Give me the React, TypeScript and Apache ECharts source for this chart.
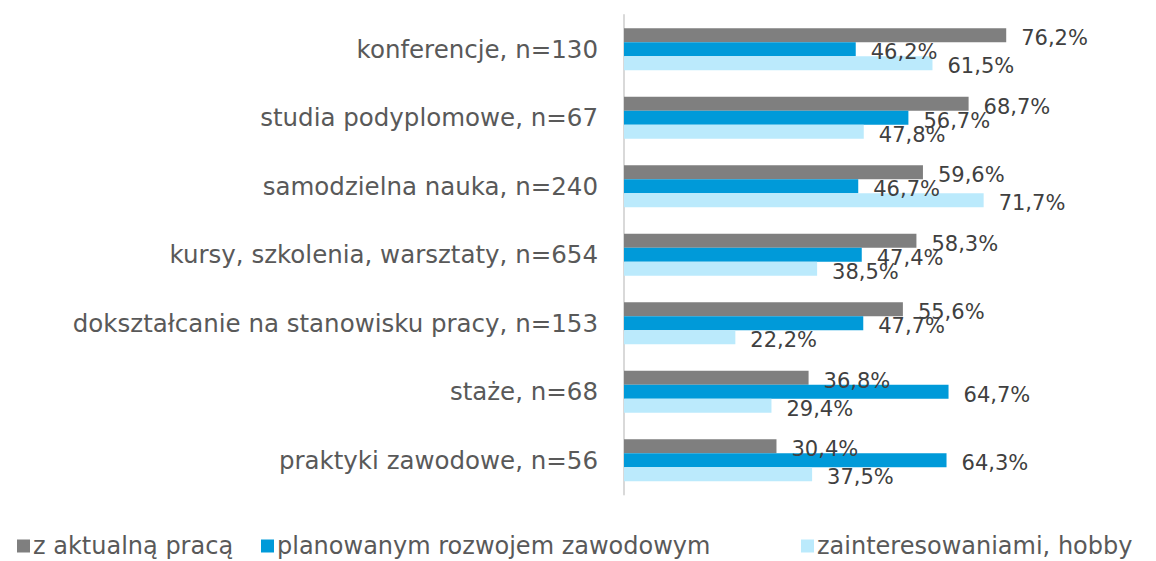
import React, { useEffect, useRef } from "react";
import * as echarts from "echarts";

const categories = [
  "konferencje, n=130",
  "studia podyplomowe, n=67",
  "samodzielna nauka, n=240",
  "kursy, szkolenia, warsztaty, n=654",
  "dokształcanie na stanowisku pracy, n=153",
  "staże, n=68",
  "praktyki zawodowe, n=56",
];
const seriesNames = ["z aktualną pracą", "planowanym rozwojem zawodowym", "zainteresowaniami, hobby"];
const aktualnaPraca = [76.2, 68.7, 59.6, 58.3, 55.6, 36.8, 30.4];
const rozwojZawodowy = [46.2, 56.7, 46.7, 47.4, 47.7, 64.7, 64.3];
const hobby = [61.5, 47.8, 71.7, 38.5, 22.2, 29.4, 37.5];
const colors = ["#7f7f7f", "#009ad9", "#bbeafc"];
const legendLefts = [12, 256, 796];

const FONT = "DejaVu Sans";

export default function App() {
  const ref = useRef<HTMLDivElement>(null);
  useEffect(() => {
    const chart = echarts.init(ref.current!, null, { renderer: "svg" });
    const data = [aktualnaPraca, rozwojZawodowy, hobby];
    chart.setOption({
      animation: false,
      textStyle: { fontFamily: FONT },
      grid: { left: 624, right: 30.4, top: 15, bottom: 66.5, containLabel: false },
      xAxis: {
        type: "value",
        min: 0,
        max: 100,
        show: false,
      },
      yAxis: {
        type: "category",
        data: categories,
        inverse: true,
        axisLine: { show: true, lineStyle: { color: "#d9d9d9", width: 2 } },
        axisTick: { show: false },
        axisLabel: { fontSize: 24.5, color: "#595959", margin: 26, fontFamily: FONT },
      },
      legend: seriesNames.map((name, i) => ({
        left: legendLefts[i],
        top: 529,
        icon: "rect",
        itemWidth: 13,
        itemHeight: 13,
        textStyle: { fontSize: 24, color: "#595959", fontFamily: FONT, padding: [0, 0, 0, -2] },
        data: [name],
      })),
      series: seriesNames.map((name, i) => ({
        name,
        type: "bar",
        data: data[i],
        barWidth: 14,
        barGap: "0%",
        itemStyle: { color: colors[i] },
        label: {
          show: true,
          position: "right",
          distance: 15,
          offset: [0, 3],
          fontSize: 21,
          color: "#404040",
          fontFamily: FONT,
          formatter: (p: any) => p.value.toFixed(1).replace(".", ",") + "%",
        },
      })),
    });
    return () => chart.dispose();
  }, []);
  return (
    <div
      ref={ref}
      style={{ position: "fixed", left: 0, top: 0, width: 1156, height: 561, background: "#fff" }}
    />
  );
}
